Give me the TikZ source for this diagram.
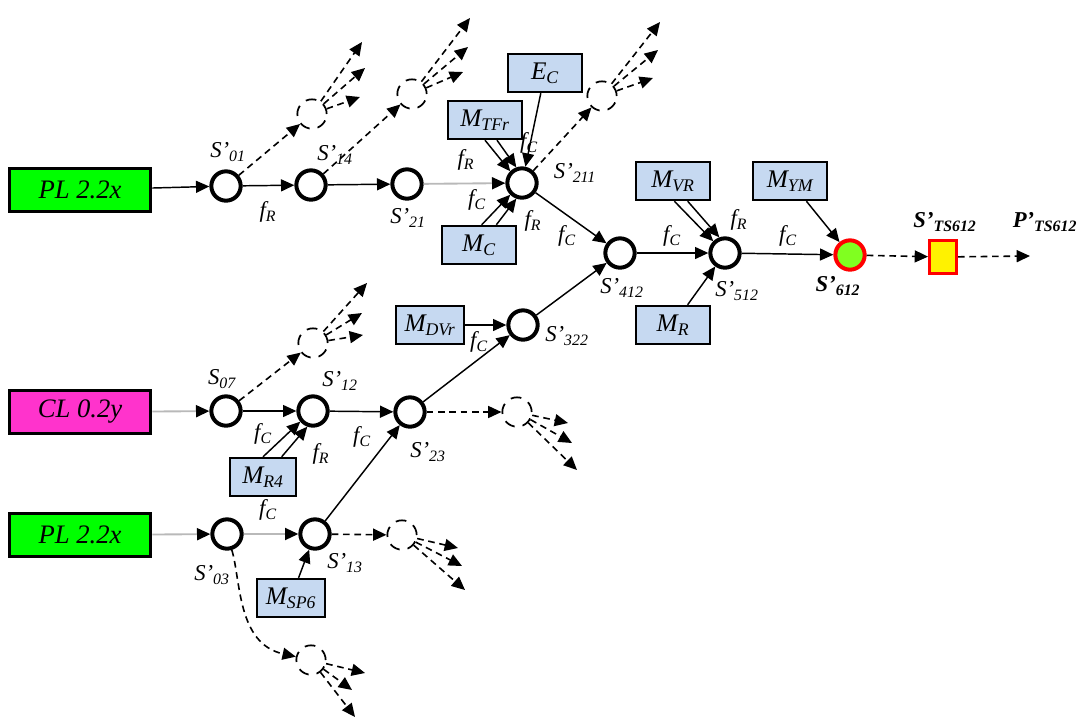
\documentclass[tikz,border=0pt]{standalone}
\usepackage{fontspec}
\setmainfont{Liberation Serif}
\usetikzlibrary{arrows.meta}

\definecolor{srcgreen}{RGB}{0,255,0}
\definecolor{srcpink}{RGB}{255,51,204}
\definecolor{mblue}{RGB}{198,217,241}
\definecolor{limeg}{RGB}{128,255,32}

\newcommand{\sub}[2]{#1\textsubscript{#2}}

\tikzset{every picture/.style={line width=0.75pt}}

\begin{document}
\begin{tikzpicture}[x=0.75pt,y=0.75pt,yscale=-1,xscale=1,
  src/.style={draw,line width=2.5pt,minimum width=106pt,minimum height=32pt,font=\fontsize{20}{22}\selectfont\itshape},
  mbox/.style={draw,fill=mblue,line width=1.3pt,minimum width=55pt,minimum height=29pt,inner sep=1pt,font=\fontsize{19}{21}\selectfont\itshape},
  st/.style={circle,draw,line width=3pt,minimum size=22pt,inner sep=0pt},
  ghost/.style={circle,draw,dash pattern=on 8pt off 6pt,line width=1.3pt,minimum size=22pt,inner sep=0pt},
  arr/.style={-{Triangle[length=10pt,width=9pt]},line width=1.1pt},
  garr/.style={-{Triangle[length=10pt,width=9pt,color=black]},line width=1.4pt,draw=gray!55},
  darr/.style={arr,line width=1.2pt,dash pattern=on 5pt off 3.5pt},
  lab/.style={font=\fontsize{17}{19}\selectfont\itshape,inner sep=1pt},
  blab/.style={font=\fontsize{17}{19}\selectfont\bfseries\itshape,inner sep=1pt}]
	\useasboundingbox (0,0) rectangle (1088,725);

	% input boxes
	\node[src,fill=srcgreen] (pl1) at (80,190) {PL 2.2x};
	\node[src,fill=srcpink] (cl) at (80,412) {CL 0.2y};
	\node[src,fill=srcgreen] (pl2) at (80,535) {PL 2.2x};

	% states
	\node[st] (s01) at (226,186) {};
	\node[st] (s14) at (311,185) {};
	\node[st] (s21) at (407,184) {};
	\node[st] (s211) at (522,183) {};
	\node[st] (s412) at (620,253) {};
	\node[st] (s512) at (725,253) {};
	\node[st,fill=limeg,draw=red] (s612) at (850,255) {};
	\node[st] (s07) at (226,411) {};
	\node[st] (s12) at (313,411) {};
	\node[st] (s23) at (410,412) {};
	\node[st] (s322) at (523,325) {};
	\node[st] (s03) at (227,534) {};
	\node[st] (s13) at (315,534) {};
	\node[draw=red,fill=yellow,line width=2.5pt,minimum width=20pt,minimum height=25pt,inner sep=0pt] (ts) at (943,257) {};
	\coordinate (pend) at (1030,256);

	% resource boxes
	\node[mbox] (mtf) at (485,120) {\sub{M}{TFr}};
	\node[mbox] (ec) at (545,73) {\sub{E}{C}};
	\node[mbox] (mc) at (479,245) {\sub{M}{C}};
	\node[mbox] (mvr) at (673,181) {\sub{M}{VR}};
	\node[mbox] (mym) at (790,181) {\sub{M}{YM}};
	\node[mbox] (mr) at (673,325) {\sub{M}{R}};
	\node[mbox,minimum width=51pt] (mdv) at (430,325) {\sub{M}{DVr}};
	\node[mbox,minimum width=50pt] (mr4) at (263,477) {\sub{M}{R4}};
	\node[mbox,minimum width=51pt] (msp) at (291,598) {\sub{M}{SP6}};

	% ghost states
	\node[ghost] (g1) at (312,114) {};
	\node[ghost] (g2) at (412,94) {};
	\node[ghost] (g3) at (602,96) {};
	\node[ghost] (g4) at (313,343) {};
	\node[ghost] (g5) at (517,412) {};
	\node[ghost] (g6) at (402,535) {};
	\node[ghost] (g7) at (311,660) {};
	\coordinate (g1a) at (362,42); \coordinate (g1b) at (365,68); \coordinate (g1c) at (360,97);
	\coordinate (g2a) at (470,18); \coordinate (g2b) at (468,47); \coordinate (g2c) at (463,72);
	\coordinate (g3a) at (660,22); \coordinate (g3b) at (658,50); \coordinate (g3c) at (653,78);
	\coordinate (g4a) at (367,283); \coordinate (g4b) at (362,313); \coordinate (g4c) at (363,335);
	\coordinate (g5a) at (568,423); \coordinate (g5b) at (572,443); \coordinate (g5c) at (577,470);
	\coordinate (g6a) at (458,548); \coordinate (g6b) at (462,566); \coordinate (g6c) at (465,590);
	\coordinate (g7a) at (365,673); \coordinate (g7b) at (352,690); \coordinate (g7c) at (355,717);

	% main flow
	\draw[arr] (pl1) -- (s01);
	\draw[arr] (s01) -- (s14);
	\draw[arr] (s14) -- (s21);
	\draw[garr] (s21) -- (s211);
	\draw[arr] (s211) -- (s412);
	\draw[arr] (s322) -- (s412);
	\draw[arr] (s412) -- (s512);
	\draw[arr] (s512) -- (s612);
	\draw[darr] (s612) -- (ts);
	\draw[darr] (ts) -- (pend);
	\draw[garr] (cl) -- (s07);
	\draw[arr] (s07) -- (s12);
	\draw[arr] (s12) -- (s23);
	\draw[arr] (s23) -- (s322);
	\draw[garr] (pl2) -- (s03);
	\draw[garr] (s03) -- (s13);
	\draw[arr] (s13) -- (s23);

	% resources into states
	\draw[arr] (ec) -- (s211);
	\draw[arr] (mtf.south) -- (s211.135);
	\draw[arr] ([xshift=9pt]mtf.south) -- (s211.110);
	\draw[arr] ([xshift=2pt]mc.north) -- (s211.225);
	\draw[arr] ([xshift=13pt]mc.north) -- (s211.250);
	\draw[arr] ([xshift=1pt]mvr.south) -- (s512.135);
	\draw[arr] ([xshift=11pt]mvr.south) -- (s512.110);
	\draw[arr] (mr) -- (s512);
	\draw[arr] (mym) -- (s612);
	\draw[arr] (mdv) -- (s322);
	\draw[arr] (mr4.north) -- (s12.220);
	\draw[arr] ([xshift=14pt]mr4.north) -- (s12.250);
	\draw[arr] (msp) -- (s13);

	% possible branches
	\draw[darr] (s01) -- (g1);
	\draw[darr] (s14) -- (g2);
	\draw[darr] (s211) -- (g3);
	\draw[darr] (s07) -- (g4);
	\draw[darr] (s23) -- (g5);
	\draw[darr] (s13) -- (g6);
	\draw[darr] (s03) to[out=80,in=200] (g7);
	\foreach \g in {g1,g2,g3,g4,g5,g6,g7}
	  \foreach \k in {a,b,c}
	    \draw[darr] (\g) -- (\g\k);

	% labels
	\node[lab] (ls01) at (228,152) {\sub{S'}{01}};
	\node[lab] (ls14) at (335,155) {\sub{S'}{14}};
	\node[lab] (ls21) at (408,218) {\sub{S'}{21}};
	\node[lab] (ls211) at (575,173) {\sub{S'}{211}};
	\node[lab] (ls412) at (622,288) {\sub{S'}{412}};
	\node[lab] (ls512) at (737,291) {\sub{S'}{512}};
	\node[blab] (ls612) at (838,286) {\sub{S'}{612}};
	\node[blab] (lts) at (945,222) {\sub{S'}{TS612}};
	\node[blab] (lpts) at (1045,222) {\sub{P'}{TS612}};
	\node[lab] (ls07) at (222,379) {\sub{S}{07}};
	\node[lab] (ls12) at (340,381) {\sub{S'}{12}};
	\node[lab] (ls23) at (428,452) {\sub{S'}{23}};
	\node[lab] (ls322) at (567,336) {\sub{S'}{322}};
	\node[lab] (ls03) at (212,575) {\sub{S'}{03}};
	\node[lab] (ls13) at (345,563) {\sub{S'}{13}};

	\node[lab] (f1) at (268,212) {\sub{f}{R}};
	\node[lab] (f2) at (466,160) {\sub{f}{R}};
	\node[lab] (f3) at (477,200) {\sub{f}{C}};
	\node[lab] (f4) at (529,143) {\sub{f}{C}};
	\node[lab] (f5) at (533,221) {\sub{f}{R}};
	\node[lab] (f6) at (567,236) {\sub{f}{C}};
	\node[lab] (f7) at (672,236) {\sub{f}{C}};
	\node[lab] (f8) at (739,220) {\sub{f}{R}};
	\node[lab] (f9) at (788,236) {\sub{f}{C}};
	\node[lab] (f10) at (263,434) {\sub{f}{C}};
	\node[lab] (f11) at (321,454) {\sub{f}{R}};
	\node[lab] (f12) at (362,437) {\sub{f}{C}};
	\node[lab] (f13) at (479,342) {\sub{f}{C}};
	\node[lab] (f14) at (268,510) {\sub{f}{C}};

\end{tikzpicture}
\end{document}
